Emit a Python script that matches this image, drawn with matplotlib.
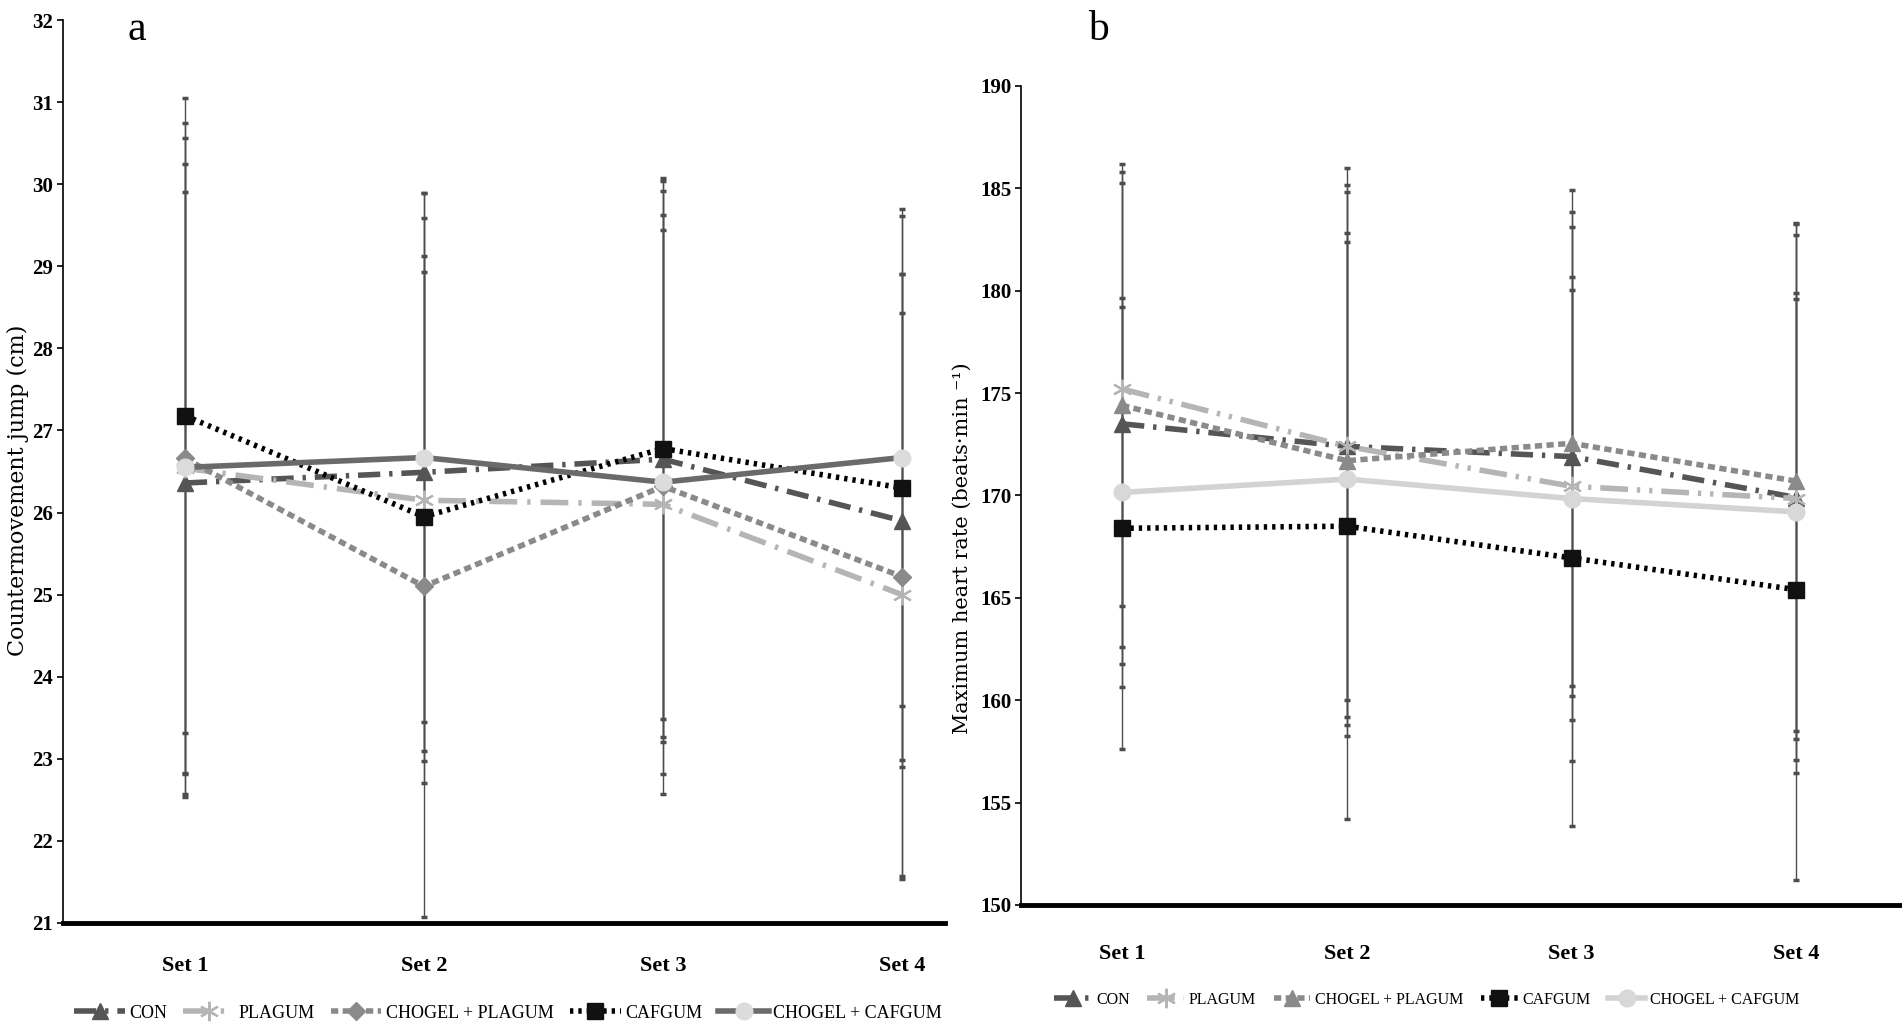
import numpy as np
import matplotlib
matplotlib.use('Agg')
import matplotlib.pyplot as plt
from matplotlib.transforms import Bbox, TransformedBbox

# data
sets = ['Set 1', 'Set 2', 'Set 3', 'Set 4']
groups = ['CON', 'PLAGUM', 'CHOGEL + PLAGUM', 'CAFGUM', 'CHOGEL + CAFGUM']

# a: countermovement jump (cm), mean and SD
cmj_con = [26.36, 26.49, 26.65, 25.90]
cmj_plagum = [26.54, 26.15, 26.10, 25.00]
cmj_chogel_plagum = [26.66, 25.10, 26.32, 25.22]
cmj_cafgum = [27.18, 25.95, 26.78, 26.30]
cmj_chogel_cafgum = [26.55, 26.67, 26.37, 26.67]

cmj_con_sd = [3.54, 3.40, 3.39, 3.00]
cmj_plagum_sd = [3.71, 3.44, 3.53, 3.43]
cmj_chogel_plagum_sd = [4.09, 4.03, 3.12, 3.68]
cmj_cafgum_sd = [3.87, 2.98, 3.29, 3.31]
cmj_chogel_cafgum_sd = [4.01, 3.22, 3.55, 3.03]

# b: maximum heart rate (beats/min), mean and SD
hr_con = [173.5, 172.4, 171.9, 169.9]
hr_plagum = [175.2, 172.4, 170.45, 169.85]
hr_chogel_plagum = [174.4, 171.7, 172.55, 170.7]
hr_cafgum = [168.4, 168.5, 166.95, 165.4]
hr_chogel_cafgum = [170.15, 170.8, 169.85, 169.2]

hr_con_sd = [11.75, 13.6, 11.2, 12.8]
hr_plagum_sd = [10.6, 12.4, 13.4, 13.4]
hr_chogel_plagum_sd = [11.8, 13.45, 12.35, 12.6]
hr_cafgum_sd = [10.8, 14.3, 13.1, 14.2]
hr_chogel_cafgum_sd = [9.5, 11.6, 10.8, 10.7]

serif = 'Liberation Serif'
W, H = 1902, 1033
fig = plt.figure(figsize=(W / 100, H / 100), dpi=100)

def px_axes(left, right, top, bottom):
    return fig.add_axes([left / W, 1 - bottom / H, (right - left) / W, (bottom - top) / H])

ax_a = px_axes(63, 945, 20, 923)
ax_b = px_axes(1021, 1902, 86, 905)

x = np.arange(1, 5)

style_a = [
    dict(color='#555555', ls=(0, (4, 1.6, 0.6, 1.6)), marker='^', mfc='#555555', mec='#555555', ms=11),
    dict(color='#b5b5b5', ls=(0, (5, 1.8, 0.6, 1.8)), marker=(6, 2, 0), mfc='#b5b5b5', mec='#b5b5b5', ms=14, mew=1.6),
    dict(color='#8a8a8a', ls=(0, (1.3, 0.8)), marker='D', mfc='#8a8a8a', mec='#8a8a8a', ms=9),
    dict(color='#000000', ls=(0, (0.6, 0.9)), marker='s', mfc='#111111', mec='#111111', ms=11),
    dict(color='#6a6a6a', ls='-', marker='o', mfc='#dcdcdc', mec='#dcdcdc', ms=12),
]
style_b = [
    dict(color='#555555', ls=(0, (4, 1.6, 0.6, 1.6)), marker='^', mfc='#555555', mec='#555555', ms=11),
    dict(color='#b5b5b5', ls=(0, (5, 1.6, 0.6, 1.6, 0.6, 1.6)), marker=(6, 2, 0), mfc='#b5b5b5', mec='#b5b5b5', ms=14, mew=1.6),
    dict(color='#8a8a8a', ls=(0, (1.3, 0.8)), marker='^', mfc='#8a8a8a', mec='#8a8a8a', ms=11),
    dict(color='#000000', ls=(0, (0.6, 0.9)), marker='s', mfc='#111111', mec='#111111', ms=11),
    dict(color='#d3d3d3', ls='-', marker='o', mfc='#d8d8d8', mec='#d8d8d8', ms=12),
]

means_a = [cmj_con, cmj_plagum, cmj_chogel_plagum, cmj_cafgum, cmj_chogel_cafgum]
sds_a = [cmj_con_sd, cmj_plagum_sd, cmj_chogel_plagum_sd, cmj_cafgum_sd, cmj_chogel_cafgum_sd]
means_b = [hr_con, hr_plagum, hr_chogel_plagum, hr_cafgum, hr_chogel_cafgum]
sds_b = [hr_con_sd, hr_plagum_sd, hr_chogel_plagum_sd, hr_cafgum_sd, hr_chogel_cafgum_sd]


def draw(ax, means, sds, styles):
    for m, s in zip(means, sds):
        ax.errorbar(x, m, yerr=s, fmt='none', ecolor='#4d4d4d', elinewidth=1.0,
                    capsize=2.5, capthick=2.5, zorder=1)
    lines = []
    for m, st, g in zip(means, styles, groups):
        ln, = ax.plot(x, m, lw=4, label=g, zorder=3, **st)
        lines.append(ln)
    for sp in ['top', 'right']:
        ax.spines[sp].set_visible(False)
    ax.spines['left'].set_linewidth(1.2)
    ax.spines['bottom'].set_linewidth(3.5)
    ax.set_xticks(x)
    ax.set_xticklabels(sets)
    ax.tick_params(axis='x', length=0, labelsize=16)
    ax.tick_params(axis='y', length=4, width=1.2, labelsize=15, pad=3)
    for t in ax.get_xticklabels() + ax.get_yticklabels():
        t.set_fontfamily(serif)
        t.set_fontweight('bold')
    return lines


lines_a = draw(ax_a, means_a, sds_a, style_a)
ax_a.set_xlim(0.49, 4.18)
ax_a.set_ylim(21, 32)
ax_a.set_yticks(np.arange(21, 33, 1))
ax_a.tick_params(axis='x', pad=24)

lines_b = draw(ax_b, means_b, sds_b, style_b)
ax_b.set_xlim(0.55, 4.47)
ax_b.set_ylim(150, 190)
ax_b.set_yticks(np.arange(150, 191, 5))
ax_b.tick_params(axis='x', pad=28)

fig.text(18 / W, 1 - 490 / H, 'Countermovement jump (cm)', rotation=90, ha='center', va='center',
         family='DejaVu Serif', fontsize=16)
fig.text(962 / W, 1 - 548 / H, 'Maximum heart rate (beats\u00b7min \u207b\u00b9)', rotation=90,
         ha='center', va='center', family='DejaVu Serif', fontsize=15)

fig.text(137 / W, 1 - 30 / H, 'a', ha='center', va='center', family=serif, fontsize=30)
fig.text(1098 / W, 1 - 30 / H, 'b', ha='center', va='center', family=serif, fontsize=30)

leg_a = fig.legend(handles=lines_a, loc='center left', bbox_to_anchor=(58 / W, 1 - 1013 / H),
                   ncol=5, frameon=False, prop={'family': serif, 'size': 13},
                   handlelength=2.8, handletextpad=0.25, columnspacing=0.9)
clip = TransformedBbox(Bbox([[0, 0], [951 / W, 1]]), fig.transFigure)
for t in leg_a.get_texts():
    t.set_clip_box(clip)
    t.set_clip_on(True)

fig.legend(handles=lines_b, loc='center left', bbox_to_anchor=(1040 / W, 1 - 1000 / H),
           ncol=5, frameon=False, prop={'family': serif, 'size': 11.5},
           handlelength=2.3, handletextpad=0.3, columnspacing=1.1)

fig.savefig('out.png', dpi=100)
